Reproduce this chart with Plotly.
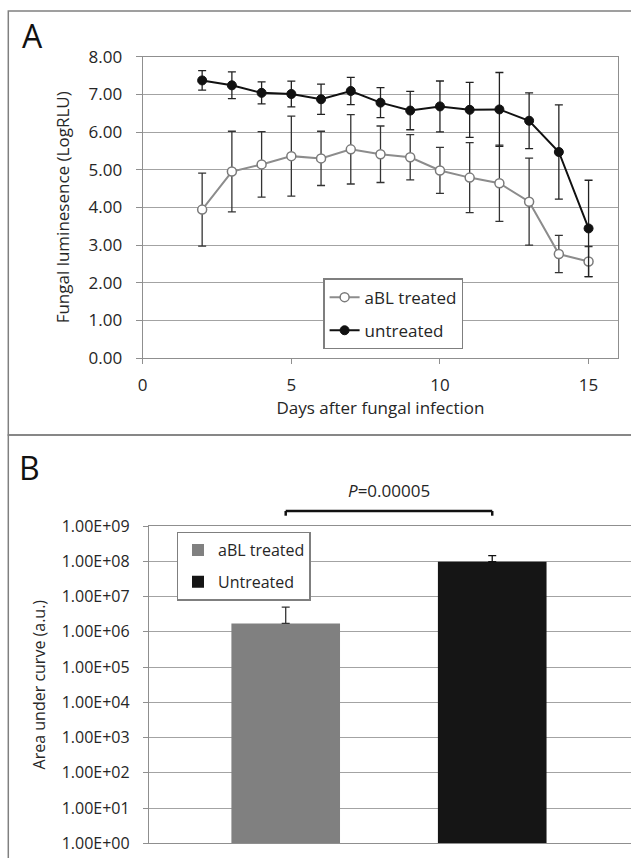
import plotly.graph_objects as go

# ---- Panel A data ----
days = [2, 3, 4, 5, 6, 7, 8, 9, 10, 11, 12, 13, 14, 15]
treated_mean = [3.94, 4.95, 5.14, 5.36, 5.30, 5.54, 5.41, 5.33, 4.98, 4.79, 4.64, 4.15, 2.76, 2.56]
treated_err = [0.97, 1.07, 0.87, 1.06, 0.72, 0.92, 0.75, 0.60, 0.61, 0.93, 1.01, 1.155, 0.495, 0.40]
untreated_mean = [7.37, 7.24, 7.04, 7.01, 6.87, 7.09, 6.78, 6.57, 6.68, 6.59, 6.60, 6.30, 5.47, 3.44]
untreated_err = [0.26, 0.355, 0.29, 0.34, 0.40, 0.36, 0.40, 0.51, 0.675, 0.73, 0.98, 0.74, 1.25, 1.28]
a_yticks = [0, 1, 2, 3, 4, 5, 6, 7, 8]
a_xticks = [0, 5, 10, 15]

# ---- Panel B data ----
groups = ["aBL treated", "Untreated"]
auc_mean = [1.72e6, 9.7e7]
auc_err_plus = [3.3e6, 4.7e7]
b_yticks = [10 ** k for k in range(10)]
b_yticktext = ["1.00E+%02d" % k for k in range(10)]
p_text = "<i>P</i>=0.00005"

W, H = 631, 858
FONT = "Open Sans"
TXT = "#262626"
GRID = "#a3a3a3"


def px(x):
    return x / W


def py(y):
    return 1 - y / H


fig = go.Figure()

fig.add_trace(go.Scatter(
    x=days, y=treated_mean, mode="lines+markers", name="aBL treated",
    line=dict(color="#8c8c8c", width=2),
    marker=dict(symbol="circle", size=9, color="white", line=dict(color="#7a7a7a", width=1.5)),
    error_y=dict(type="data", array=treated_err, visible=True, color="#333333", thickness=1.3, width=4),
    xaxis="x", yaxis="y", legend="legend", legendgroup="a1",
))
fig.add_trace(go.Scatter(
    x=days, y=untreated_mean, mode="lines+markers", name="untreated",
    line=dict(color="#111111", width=2),
    marker=dict(symbol="circle", size=9, color="#111111", line=dict(color="#111111", width=1)),
    error_y=dict(type="data", array=untreated_err, visible=True, color="#222222", thickness=1.3, width=4),
    xaxis="x", yaxis="y", legend="legend", legendgroup="a2",
))

bar_colors = ["#808080", "#151515"]
err_colors = ["#333333", "#111111"]
for i in range(2):
    fig.add_trace(go.Bar(
        x=[groups[i]], y=[auc_mean[i]], name=groups[i], width=0.526,
        marker=dict(color=bar_colors[i], line=dict(width=0)),
        error_y=dict(type="data", symmetric=False, array=[auc_err_plus[i]], arrayminus=[0],
                     visible=True, color=err_colors[i], thickness=1.3, width=4),
        xaxis="x2", yaxis="y2", legend="legend2", legendgroup="b%d" % i,
    ))

fig.update_layout(
    width=W, height=H,
    margin=dict(l=0, r=0, t=0, b=0),
    paper_bgcolor="white", plot_bgcolor="white",
    font=dict(family=FONT, color=TXT, size=16),
    barmode="overlay",
    xaxis=dict(
        domain=[px(142.7), px(618.3)], range=[0, 16], tickvals=a_xticks,
        showgrid=False, zeroline=False, showline=True, linecolor="#8f8f8f", linewidth=1.3,
        mirror=True, ticks="outside", ticklen=5, tickcolor="#8f8f8f",
        tickfont=dict(size=17, color=TXT), ticklabelstandoff=6,
        title=dict(text="Days after fungal infection", font=dict(size=17, color=TXT), standoff=6),
        anchor="y", automargin=False,
    ),
    yaxis=dict(
        domain=[py(358), py(56.7)], range=[0, 8], tickvals=a_yticks, tickformat=".2f",
        showgrid=True, gridcolor=GRID, gridwidth=1.2, zeroline=False,
        showline=True, linecolor="#8f8f8f", linewidth=1.3, mirror=True,
        ticks="outside", ticklen=6, tickcolor="#8f8f8f",
        tickfont=dict(size=17, color=TXT), ticklabelstandoff=10,
        title=dict(text="Fungal luminesence (LogRLU)", font=dict(size=17, color=TXT), standoff=14),
        anchor="x", automargin=False,
    ),
    xaxis2=dict(
        domain=[px(149), 1.0], range=[-0.662, 1.672], type="category",
        showticklabels=False, showgrid=False, zeroline=False, showline=True,
        linecolor="#8f8f8f", linewidth=1.3, mirror=True, ticks="",
        anchor="y2", automargin=False,
    ),
    yaxis2=dict(
        domain=[py(843.3), py(526)], type="log", range=[0, 9],
        tickvals=b_yticks, ticktext=b_yticktext,
        showgrid=True, gridcolor=GRID, gridwidth=1.2, zeroline=False,
        showline=True, linecolor="#8f8f8f", linewidth=1.3, mirror=True,
        ticks="outside", ticklen=5, tickcolor="#8f8f8f",
        tickfont=dict(size=16, color=TXT), ticklabelstandoff=10,
        title=dict(text="Area under curve (a.u.)", font=dict(size=16, color=TXT), standoff=12),
        anchor="x2", automargin=False,
    ),
    legend=dict(
        x=px(323.3), y=py(278.3), xanchor="left", yanchor="top",
        bgcolor="white", bordercolor="#7f7f7f", borderwidth=1.3,
        font=dict(size=17, color=TXT), tracegroupgap=8, itemwidth=30,
    ),
    legend2=dict(
        x=px(176.7), y=py(531.7), xanchor="left", yanchor="top",
        bgcolor="white", bordercolor="#7f7f7f", borderwidth=1.3,
        font=dict(size=16, color=TXT), tracegroupgap=8, itemwidth=30,
    ),
    showlegend=True,
)

# panel frames
fig.add_shape(type="rect", xref="paper", yref="paper", x0=px(8.3), x1=1.02, y0=py(435), y1=py(11),
              line=dict(color="#808080", width=1.5), layer="below")
fig.add_shape(type="rect", xref="paper", yref="paper", x0=px(8.3), x1=1.02, y0=-0.02, y1=py(435),
              line=dict(color="#808080", width=1.5), layer="below")

# significance bracket
yb_top, yb_bot = py(511), py(515.7)
for (x0, y0, x1, y1) in [(0, yb_bot, 0, yb_top), (0, yb_top, 1, yb_top), (1, yb_top, 1, yb_bot)]:
    fig.add_shape(type="line", xref="x2", yref="paper", x0=x0, x1=x1, y0=y0, y1=y1,
                  line=dict(color="#111111", width=2.5))

fig.add_annotation(text=p_text, xref="x2", yref="paper", x=0.5, y=py(490.7), showarrow=False,
                   font=dict(size=17, color=TXT), xanchor="center", yanchor="middle")
fig.add_annotation(text="A", xref="paper", yref="paper", x=px(32.5), y=py(35), showarrow=False,
                   font=dict(size=32, color="#111111"), xanchor="center", yanchor="middle")
fig.add_annotation(text="B", xref="paper", yref="paper", x=px(29.5), y=py(468), showarrow=False,
                   font=dict(size=32, color="#111111"), xanchor="center", yanchor="middle")

fig.write_html("out.html")
